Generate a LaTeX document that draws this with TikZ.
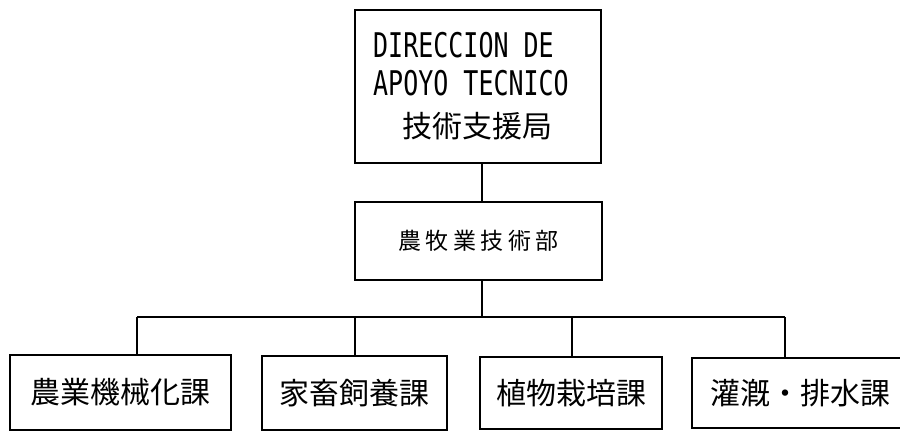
\documentclass[tikz,border=0pt]{standalone}
\usepackage{fontspec}
\newfontfamily\cjk{Noto Sans CJK JP}
\newfontfamily\cjkspaced[LetterSpace=20]{Noto Sans CJK JP}
\newfontfamily\condmono[FakeStretch=0.735]{DejaVu Sans Mono}
\begin{document}
\begin{tikzpicture}[x=1pt,y=-1pt,
  box/.style={draw, line width=1.6pt, inner sep=0pt},
  conn/.style={line width=1.6pt},
  bigcjk/.style={font=\cjk\fontsize{30}{32}\selectfont},
  latin/.style={font=\condmono\fontsize{34}{36}\selectfont, inner sep=0pt}]
\useasboundingbox[fill=white] (0,0) rectangle (900,437);
% boxes
\node[box, minimum width=246pt, minimum height=153pt] (top) at (478,86.5) {};
\node[latin, anchor=base west] (t1) at (373,57) {DIRECCION DE};
\node[latin, anchor=base west] (t2) at (373,95) {APOYO TECNICO};
\node[bigcjk, inner sep=0pt] (t3) at (477,126) {技術支援局};
\node[box, minimum width=247pt, minimum height=78pt,
      font=\cjkspaced\fontsize{23}{25}\selectfont] (mid) at (478.5,241) {農牧業技術部};
\node[box, bigcjk, minimum width=221pt, minimum height=75pt] (b1) at (120.5,392.5) {農業機械化課};
\node[box, bigcjk, minimum width=185pt, minimum height=74pt] (b2) at (354.5,393) {家畜飼養課};
\node[box, bigcjk, minimum width=182pt, minimum height=72pt] (b3) at (571,393) {植物栽培課};
\node[box, bigcjk, minimum width=216pt, minimum height=70pt] (b4) at (800,393) {灌漑・排水課};
% connector coordinates
\coordinate (x0) at (482,0);
\coordinate (d1) at (137,317);
\coordinate (d2) at (355,317);
\coordinate (d3) at (572,317);
\coordinate (d4) at (785,317);
\draw[conn] (top.south -| x0) -- (mid.north -| x0);
\draw[conn] (mid.south -| x0) -- (d1 -| x0);
\draw[conn] (d1) -- (d4);
\draw[conn] (d1) -- (b1.north -| d1);
\draw[conn] (d2) -- (b2.north -| d2);
\draw[conn] (d3) -- (b3.north -| d3);
\draw[conn] (d4) -- (b4.north -| d4);
\end{tikzpicture}
\end{document}
